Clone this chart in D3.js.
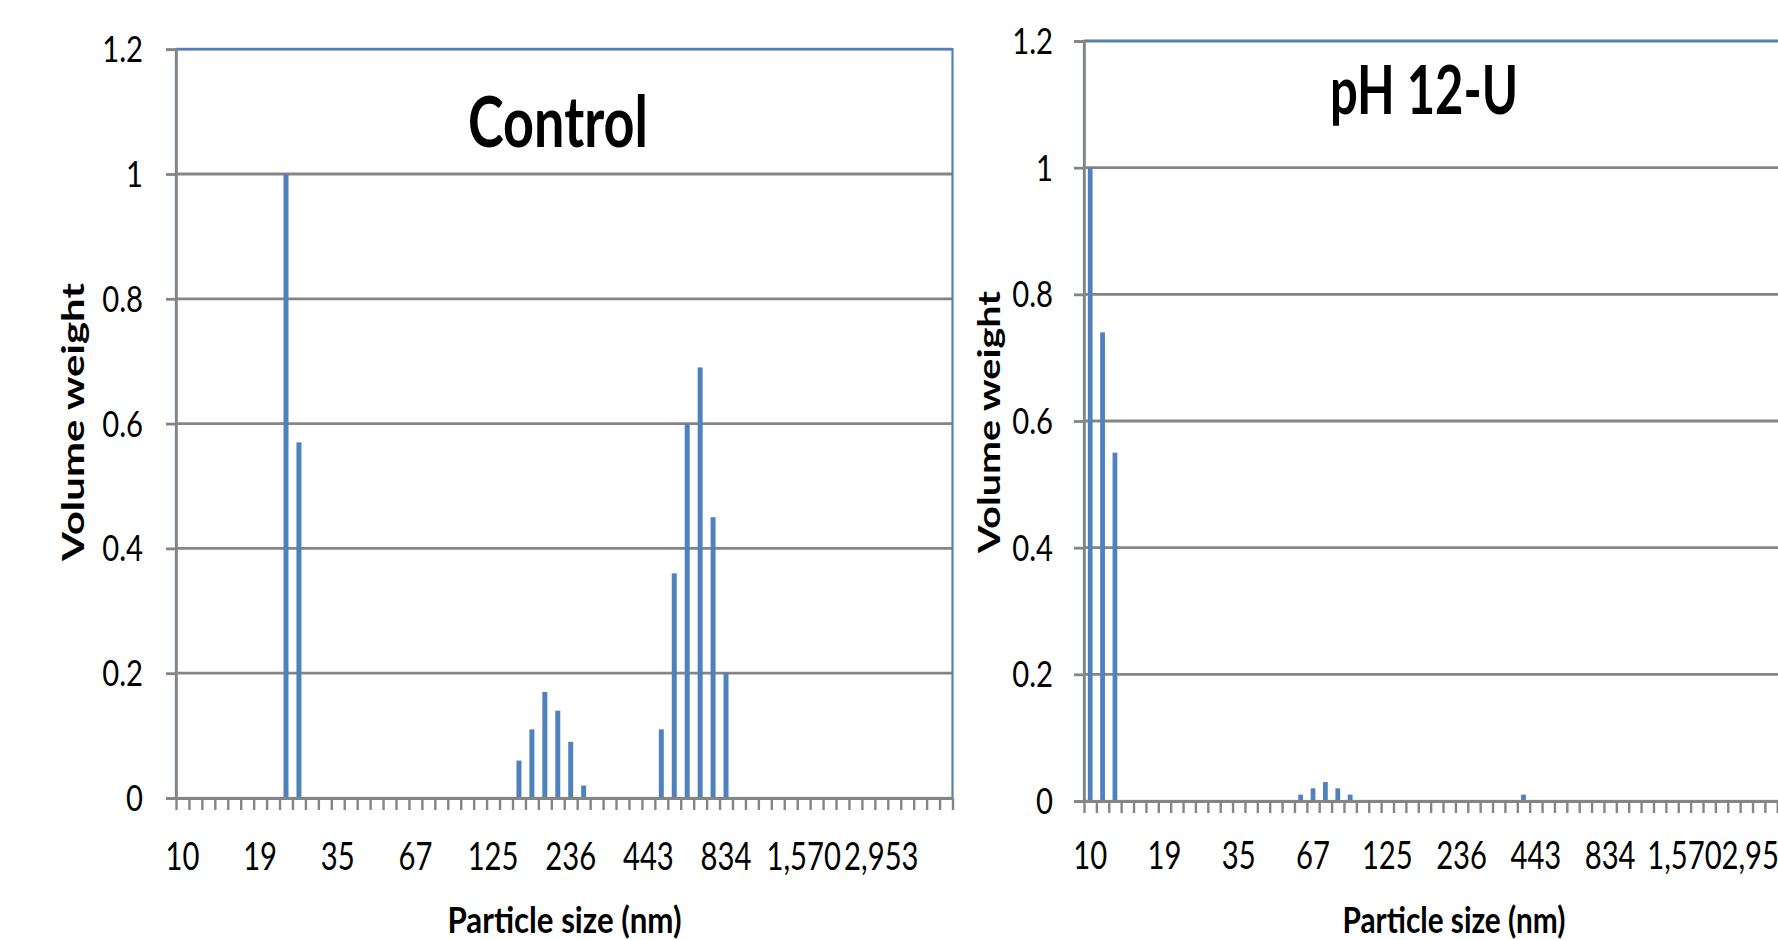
<!DOCTYPE html>
<html><head><meta charset="utf-8">
<script src="https://cdn.jsdelivr.net/npm/d3@7"></script>
<style>
html,body{margin:0;padding:0;background:#fff;overflow:hidden}
svg{display:block}
text{font-family:Lato,"Liberation Sans",sans-serif;fill:#000}
</style></head><body>
<svg id="c" width="1778" height="940"></svg>
<script>
// ---- data ----
const categories = ["10","11","12","14","15","17","19","21","23","26","29","32","35","39","44","49","54","60","67","74","82","91","101","113","125","139","155","172","191","212","236","262","291","323","359","399","443","493","547","608","675","750","834","926","1,029","1,143","1,270","1,412","1,570","1,744","1,937","2,152","2,391","2,657","2,953","3,281","3,645","4,050","4,500","5,000"];
const tickLabels = ["10","19","35","67","125","236","443","834","1,570","2,953"];
const controlValues = [0,0,0,0,0,0,0,0,1.0,0.57, 0,0,0,0,0,0,0,0,0,0, 0,0,0,0,0,0,0.06,0.11,0.17,0.14, 0.09,0.02,0,0,0,0,0,0.11,0.36,0.60, 0.69,0.45,0.20,0,0,0,0,0,0,0, 0,0,0,0,0,0,0,0,0,0];
const ph12uValues = [1.0,0.74,0.55,0,0,0,0,0,0,0, 0,0,0,0,0,0,0,0.01,0.02,0.03, 0.02,0.01,0,0,0,0,0,0,0,0, 0,0,0,0,0,0.01,0,0,0,0, 0,0,0,0,0,0,0,0,0,0, 0,0,0,0,0,0,0,0,0,0];
const yTicks = [0,0.2,0.4,0.6,0.8,1,1.2];
const titles = ["Control","pH 12-U"];
const xTitle = "Particle size (nm)";
const yTitle = "Volume weight";

// ---- layout ----
const panels = [
  {title:titles[0], values:controlValues, x0:176, x1:952.5, yTop:49.2, yBot:798,
   tX:558, tY:146.7, tSize:70, tLen:180,
   xtX:564.5, xtLen:234, ytX:83.5, ytLen:278, yLblGap:33, xLblY:870},
  {title:titles[1], values:ph12uValues, x0:1084, x1:1084+60*12.38, yTop:41, yBot:801,
   tX:1424, tY:114.3, tSize:67, tLen:188,
   xtX:1454, xtLen:223, ytX:999.5, ytLen:262, yLblGap:31, xLblY:869}
];
const BLUE = "#4F81BD", GRAY = "#858585";
const svg = d3.select("#c");
svg.append("rect").attr("width",1778).attr("height",940).attr("fill","#fff");

panels.forEach(p => {
  const g = svg.append("g");
  const x = d3.scaleBand().domain(categories).range([p.x0, p.x1]).padding(0);
  const xb = d3.scaleLinear().domain([0, categories.length]).range([p.x0, p.x1]);
  const y = d3.scaleLinear().domain([0, 1.2]).range([p.yBot, p.yTop]);

  // gridlines
  g.selectAll("line.grid").data(yTicks.filter(d => d > 0)).join("line")
    .attr("x1", p.x0).attr("x2", p.x1).attr("y1", d => y(d)).attr("y2", d => y(d))
    .attr("stroke", GRAY).attr("stroke-width", 2.8);

  // plot border
  g.append("rect").attr("x", p.x0).attr("y", y(1.2)).attr("width", p.x1 - p.x0).attr("height", y(0) - y(1.2))
    .attr("fill", "none").attr("stroke", BLUE).attr("stroke-width", 2.2);

  // bars
  const bw = x.bandwidth() * 0.385;
  g.selectAll("rect.bar").data(p.values.map((v, i) => ({c: categories[i], v}))).join("rect")
    .attr("x", d => x(d.c) + (x.bandwidth() - bw) / 2).attr("width", bw)
    .attr("y", d => y(d.v)).attr("height", d => y(0) - y(d.v)).attr("fill", BLUE);

  // y axis
  const ya = g.append("g").attr("transform", `translate(${p.x0},0)`)
    .call(d3.axisLeft(y).tickValues(yTicks).tickSize(10).tickFormat(""));
  ya.selectAll("path").attr("stroke", GRAY).attr("stroke-width", 2.6);
  ya.selectAll("line").attr("stroke", GRAY).attr("stroke-width", 2.8);

  // x axis (category boundaries)
  const xa = g.append("g").attr("transform", `translate(0,${y(0)})`)
    .call(d3.axisBottom(xb).tickValues(d3.range(categories.length + 1)).tickSize(12).tickSizeOuter(0).tickFormat(""));
  xa.selectAll("path").attr("stroke", GRAY).attr("stroke-width", 3);
  xa.selectAll("line").attr("stroke", GRAY).attr("stroke-width", 2.4);

  // y tick labels
  g.selectAll("text.yl").data(yTicks).join("text")
    .attr("transform", d => `translate(${p.x0 - p.yLblGap},${y(d) + 13})scale(0.86,1.1)`)
    .attr("text-anchor", "end").attr("font-size", 34)
    .text(d => String(+d.toFixed(1)));

  // x tick labels (every 6th category)
  const shown = categories.filter((c, i) => i % 6 === 0);
  g.selectAll("text.xl").data(shown).join("text")
    .attr("transform", d => `translate(${x(d) + x.bandwidth() / 2},${p.xLblY})scale(0.86,1.12)`)
    .attr("text-anchor", "middle").attr("font-size", 34)
    .text((d, i) => tickLabels[i]);

  // titles
  g.append("text").attr("x", p.tX).attr("y", p.tY).attr("text-anchor", "middle")
    .attr("font-size", p.tSize).attr("font-weight", 700)
    .attr("textLength", p.tLen).attr("lengthAdjust", "spacingAndGlyphs").text(p.title);
  g.append("text").attr("x", p.xtX).attr("y", 933).attr("text-anchor", "middle")
    .attr("font-size", 36).attr("font-weight", 700)
    .attr("textLength", p.xtLen).attr("lengthAdjust", "spacingAndGlyphs").text(xTitle);
  g.append("text").attr("transform", `translate(${p.ytX},422)rotate(-90)`).attr("text-anchor", "middle")
    .attr("font-size", 31).attr("font-weight", 700)
    .attr("textLength", p.ytLen).attr("lengthAdjust", "spacingAndGlyphs").text(yTitle);
});
</script>
</body></html>
